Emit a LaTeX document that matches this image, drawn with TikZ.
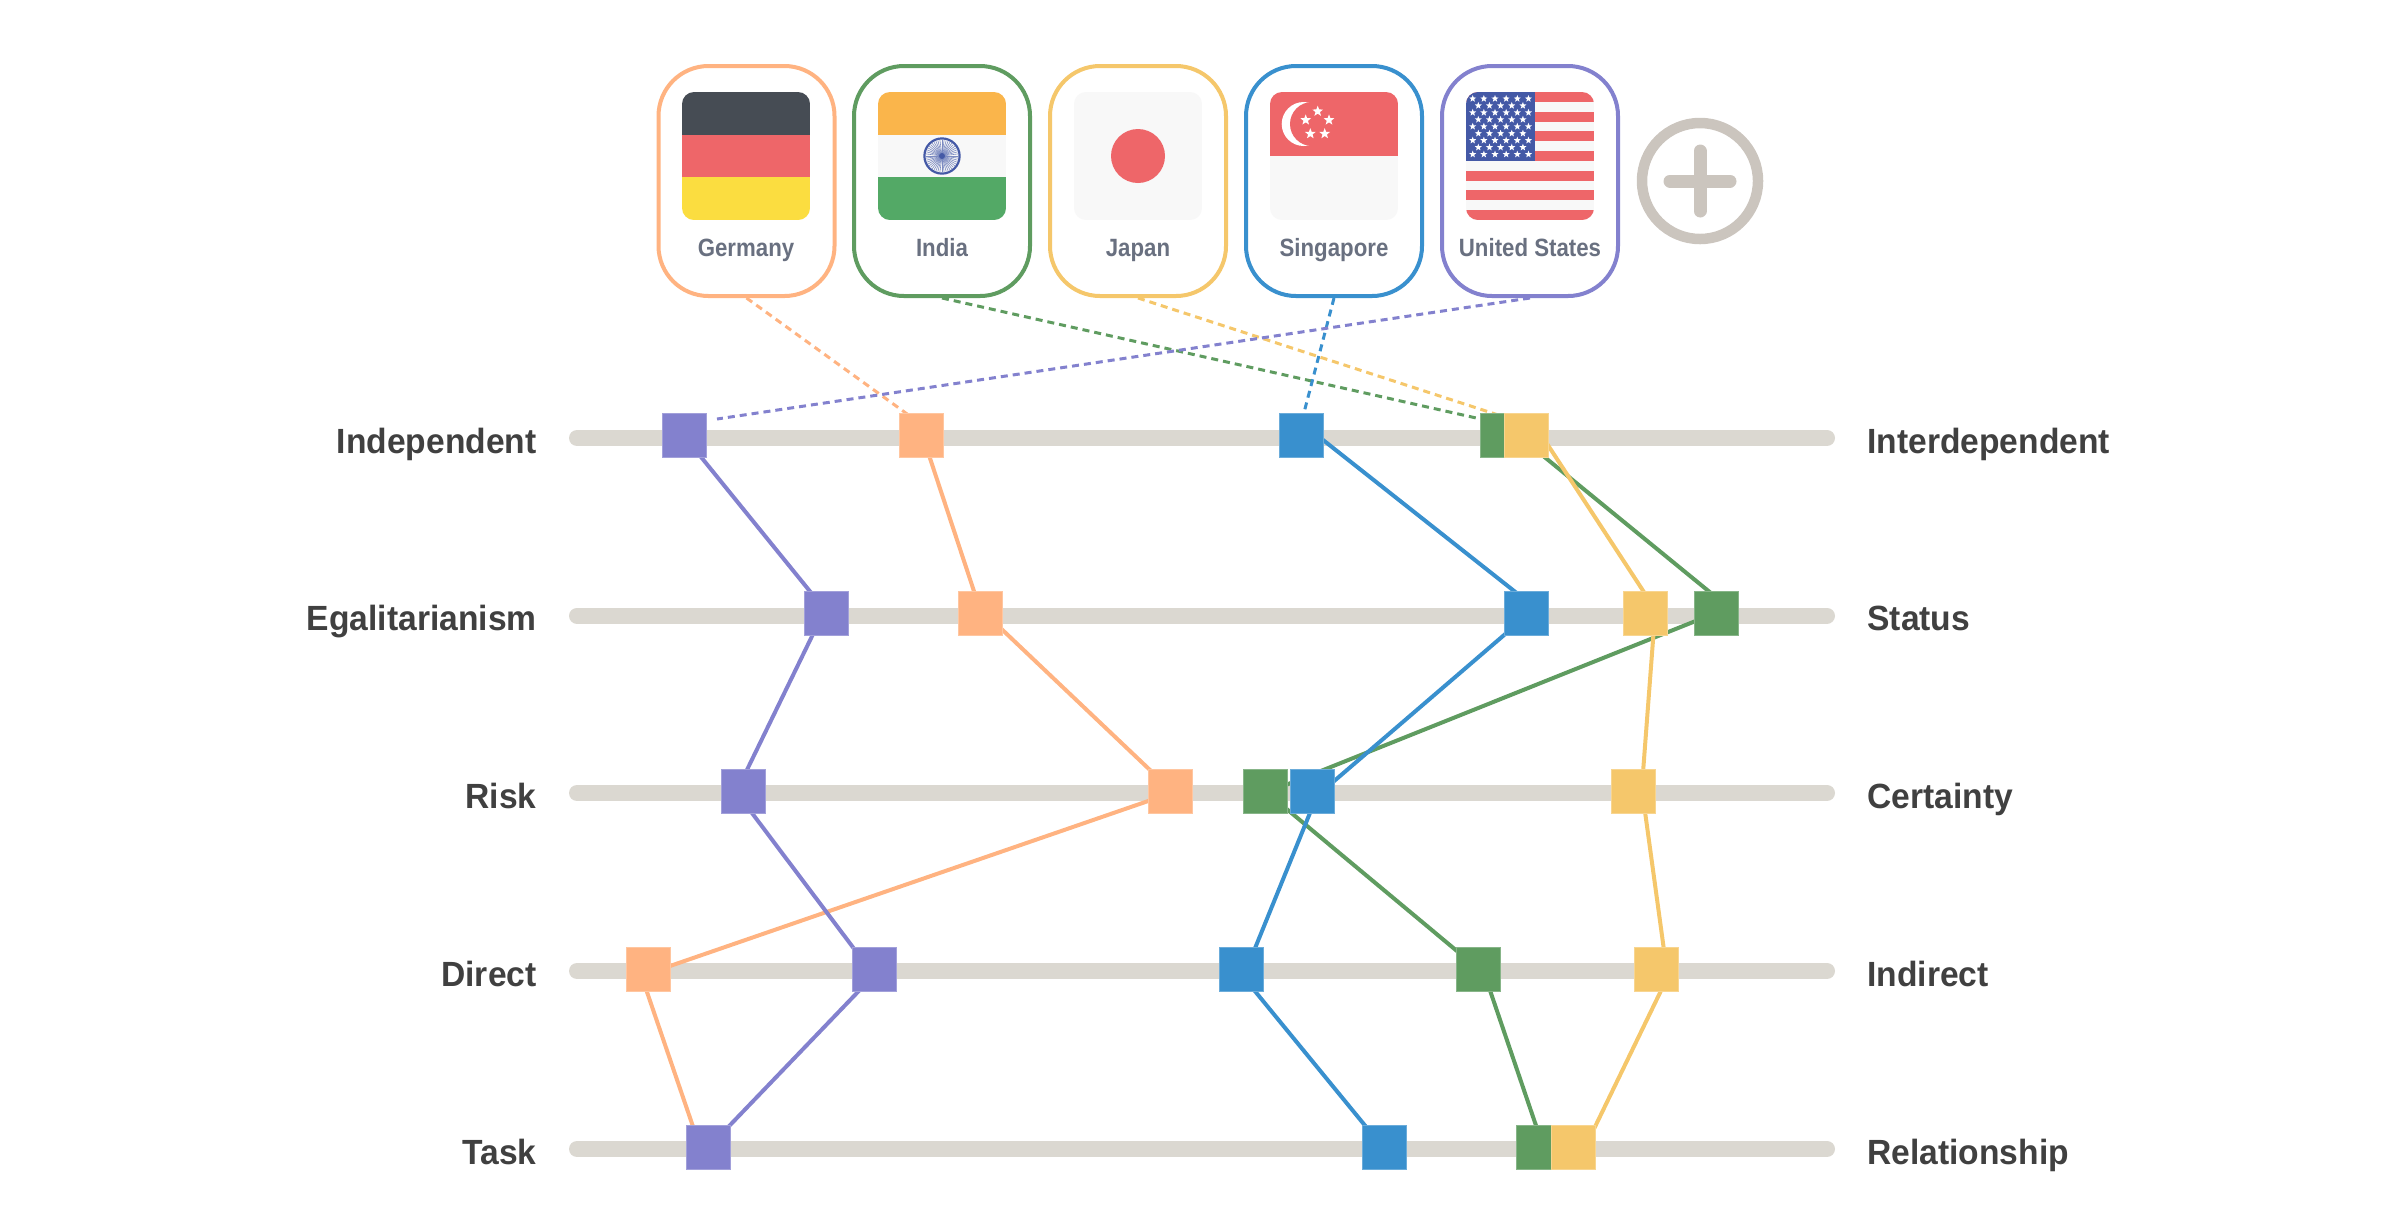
\documentclass[tikz,border=0pt]{standalone}
\usepackage{fontspec}
\usetikzlibrary{calc}
\setmainfont{Liberation Sans}
\newfontfamily\rowfont[FakeStretch=0.96]{Liberation Sans}
\newfontfamily\cardfont[FakeStretch=0.89]{Liberation Sans}
\definecolor{cOr}{HTML}{FFB381}
\definecolor{cGr}{HTML}{5F9C60}
\definecolor{cYe}{HTML}{F5C76B}
\definecolor{cBl}{HTML}{3990CE}
\definecolor{cPu}{HTML}{8381CE}
\definecolor{cTrack}{HTML}{DBD8D1}
\definecolor{cPlus}{HTML}{CBC5BE}
\definecolor{cRow}{HTML}{404040}
\definecolor{cCard}{HTML}{697080}
\definecolor{fDark}{HTML}{464C54}
\definecolor{fRed}{HTML}{EE6669}
\definecolor{fYel}{HTML}{FBDD40}
\definecolor{fOra}{HTML}{FAB54B}
\definecolor{fWhi}{HTML}{F8F8F8}
\definecolor{fGre}{HTML}{53A966}
\definecolor{fBlu}{HTML}{4459A6}
\pgfdeclarelayer{back}
\pgfdeclarelayer{links}
\pgfsetlayers{back,links,main}
\tikzset{
  track/.style={line width=8pt,cTrack,line cap=round},
  sq/.style={draw=#1!75!white,fill=#1,line width=0.5pt,minimum size=22pt,inner sep=0pt,outer sep=0pt,shape=rectangle},
  solidlink/.style={#1,line width=2pt},
  dashlink/.style={#1,line width=1.5pt,dash pattern=on 3.5pt off 2.5pt},
  card/.style={draw=#1,line width=2pt,fill=white,rounded corners=25pt,minimum width=88pt,minimum height=115pt,inner sep=0pt,outer sep=1pt,shape=rectangle},
  cardlabel/.style={font=\cardfont\bfseries\fontsize{12.5pt}{15pt}\selectfont,text=cCard,inner sep=0pt,anchor=base},
  rowL/.style={font=\rowfont\bfseries\fontsize{17.5pt}{21pt}\selectfont,text=cRow,inner sep=0pt,anchor=base east},
  rowR/.style={font=\rowfont\bfseries\fontsize{17.5pt}{21pt}\selectfont,text=cRow,inner sep=0pt,anchor=base west}
}
\newcommand{\flagclip}[1]{\clip[rounded corners=6pt] (#1,92) rectangle ++(128,128);}
\newcommand{\whitestar}[3]{\fill[white,shift={(#1,#2)}] (-90:#3) \foreach \a in {1,...,9}{ -- ({-90+36*\a}:{mod(\a,2)==1 ? 0.42*#3 : #3})} -- cycle;}
\newcommand{\seg}[5]{\draw[solidlink=#1] ($(#2.center)+(#3,0)$) -- ($(#4.center)+(#5,0)$);}
\begin{document}
\begin{tikzpicture}[x=0.5pt,y=-0.5pt]
\useasboundingbox (0,0) rectangle (2404,1228);
% tracks
\begin{pgfonlayer}{back}
\foreach \y in {438,615.7,793,971,1149}{ \draw[track] (577,\y) -- (1827,\y); }
\end{pgfonlayer}
% cards
\node[card=cOr] (cardDE) at (746.5,181) {};
\node[card=cGr] (cardIN) at (942,181) {};
\node[card=cYe] (cardJP) at (1138,181) {};
\node[card=cBl] (cardSG) at (1334,181) {};
\node[card=cPu] (cardUS) at (1530,181) {};
% Germany
\begin{scope}\flagclip{682}
\fill[fDark] (682,92) rectangle (810,134.7);
\fill[fRed] (682,134.7) rectangle (810,177.3);
\fill[fYel] (682,177.3) rectangle (810,220);
\end{scope}
% India
\begin{scope}\flagclip{878}
\fill[fOra] (878,92) rectangle (1006,134.7);
\fill[fWhi] (878,134.7) rectangle (1006,177.3);
\fill[fGre] (878,177.3) rectangle (1006,220);
\end{scope}
\foreach \a in {0,7.5,...,352.5}{ \draw[fBlu!70!white,line width=0.3pt] (942,156) -- +(\a:16); }
\draw[fBlu,line width=1.1pt] (942,156) circle (17.6);
\fill[fBlu] (942,156) circle (3);
% Japan
\begin{scope}\flagclip{1074}
\fill[fWhi] (1074,92) rectangle (1202,220);
\end{scope}
\fill[fRed] (1138,156) circle (27);
% Singapore
\begin{scope}\flagclip{1270}
\fill[fRed] (1270,92) rectangle (1398,156);
\fill[fWhi] (1270,156) rectangle (1398,220);
\end{scope}
\fill[white] (1303.7,124) circle (22);
\fill[fRed] (1312,124) circle (22);
\whitestar{1317.7}{111.3}{5.6}
\whitestar{1305.7}{120}{5.6}
\whitestar{1329}{120}{5.6}
\whitestar{1310.3}{133.7}{5.6}
\whitestar{1324.7}{133.7}{5.6}
% USA
\begin{scope}\flagclip{1466}
\fill[fWhi] (1466,92) rectangle (1594,220);
\foreach \i in {0,2,...,12}{ \fill[fRed] (1466,{92+\i*9.846}) rectangle (1594,{92+(\i+1)*9.846}); }
\fill[fBlu] (1466,92) rectangle (1535,160.9);
\end{scope}
\foreach \r in {0,2,4,6,8}{ \foreach \c in {0,...,5}{ \whitestar{{1472.7+\c*11.15}}{{98.7+\r*6.95}}{3.7} } }
\foreach \r in {1,3,5,7}{ \foreach \c in {0,...,4}{ \whitestar{{1478.3+\c*11.15}}{{98.7+\r*6.95}}{3.7} } }
% card labels
\node[cardlabel] (lDE) at (746,256) {Germany};
\node[cardlabel] (lIN) at (942,256) {India};
\node[cardlabel] (lJP) at (1138,256) {Japan};
\node[cardlabel] (lSG) at (1334,256) {Singapore};
\node[cardlabel] (lUS) at (1530,256) {United States};
% plus
\draw[cPlus,line width=5.25pt] (1700,181) circle (58);
\draw[cPlus,line width=6.5pt,line cap=round] (1670,181) -- (1730,181);
\draw[cPlus,line width=6.5pt,line cap=round] (1700,151) -- (1700,211);
% row labels
\foreach \y/\l/\r/\n in {453/Independent/Interdependent/a,630.5/Egalitarianism/Status/b,808/Risk/Certainty/c,986/Direct/Indirect/d,1164/Task/Relationship/e}{
  \node[rowL] (left\n) at (537,\y) {\l};
  \node[rowR] (right\n) at (1867,\y) {\r};
}
% squares, lowest first
\node[sq=cOr] (G1) at (921.7,435.6) {};
\node[sq=cOr] (G2) at (980.8,613.6) {};
\node[sq=cOr] (G3) at (1170.6,791.2) {};
\node[sq=cOr] (G4) at (648.7,969.2) {};
\node[sq=cOr] (G5) at (708,1147) {};
\node[sq=cGr] (I1) at (1502.5,435.6) {};
\node[sq=cGr] (I2) at (1716.1,613.6) {};
\node[sq=cGr] (I3) at (1265.3,791.2) {};
\node[sq=cGr] (I4) at (1478.8,969.2) {};
\node[sq=cGr] (I5) at (1538.3,1147) {};
\node[sq=cYe] (J1) at (1526.5,435.6) {};
\node[sq=cYe] (J2) at (1645,613.6) {};
\node[sq=cYe] (J3) at (1633.3,791.2) {};
\node[sq=cYe] (J4) at (1656.9,969.2) {};
\node[sq=cYe] (J5) at (1573.8,1147) {};
\node[sq=cBl] (S1) at (1301.1,435.6) {};
\node[sq=cBl] (S2) at (1526.5,613.6) {};
\node[sq=cBl] (S3) at (1312.8,791.2) {};
\node[sq=cBl] (S4) at (1241.7,969.2) {};
\node[sq=cBl] (S5) at (1384.1,1147) {};
\node[sq=cPu] (U1) at (684.3,435.6) {};
\node[sq=cPu] (U2) at (826.6,613.6) {};
\node[sq=cPu] (U3) at (743.6,791.2) {};
\node[sq=cPu] (U4) at (874,969.2) {};
\node[sq=cPu] (U5) at (708,1147) {};
% free ends of dashed links
\coordinate (endDE) at (921,424);
\coordinate (endIN) at (1503,424);
\coordinate (endJP) at (1526,424);
\coordinate (endSG) at (1301,424);
\coordinate (endUS) at (717,419);
% links
\begin{pgfonlayer}{links}
\draw[dashlink=cOr] (cardDE.south) -- (endDE);
\seg{cOr}{G1}{0.8}{G2}{0.6}
\seg{cOr}{G2}{4.5}{G3}{1.7}
\seg{cOr}{G3}{6}{G4}{12}
\seg{cOr}{G4}{-9.5}{G5}{-8}
\draw[dashlink=cGr] (cardIN.south) -- (endIN);
\seg{cGr}{I1}{15.8}{I2}{20}
\seg{cGr}{I2}{-2}{I3}{5}
\seg{cGr}{I3}{0}{I4}{0}
\seg{cGr}{I4}{4}{I5}{5}
\draw[dashlink=cYe] (cardJP.south) -- (endJP);
\seg{cYe}{J1}{15.2}{J2}{13}
\seg{cYe}{J2}{10}{J3}{8.3}
\seg{cYe}{J3}{8.9}{J4}{9.7}
\seg{cYe}{J4}{14.5}{J5}{11.4}
\draw[dashlink=cBl] (cardSG.south) -- (endSG);
\seg{cBl}{S1}{16.4}{S2}{16.2}
\seg{cBl}{S2}{2.5}{S3}{9.5}
\seg{cBl}{S3}{6}{S4}{4.8}
\seg{cBl}{S4}{-4.7}{S5}{-1.5}
\draw[dashlink=cPu] (cardUS.south) -- (endUS);
\seg{cPu}{U1}{-0.6}{U2}{1.4}
\seg{cPu}{U2}{-3.6}{U3}{-7}
\seg{cPu}{U3}{-8}{U4}{-4.6}
\seg{cPu}{U4}{5.7}{U5}{1}
\end{pgfonlayer}
\end{tikzpicture}
\end{document}
